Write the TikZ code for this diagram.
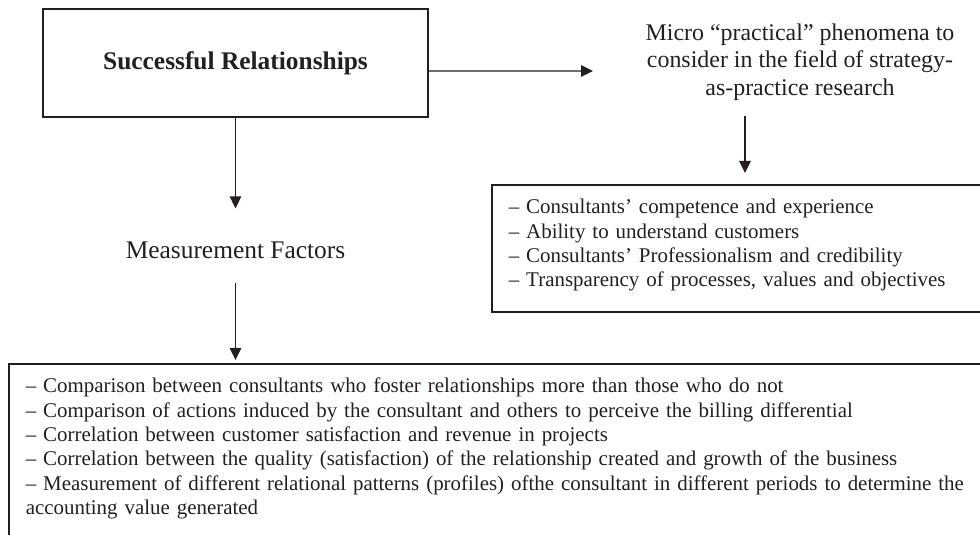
\documentclass[tikz,border=0pt]{standalone}
\usepackage{fontspec}
\setmainfont{Liberation Serif}
\usetikzlibrary{positioning,arrows.meta}
\definecolor{ink}{HTML}{231F20}

\begin{document}
\begin{tikzpicture}[x=1bp,y=-1bp,every node/.style={text=ink,font=\fontsize{21}{24.4}\selectfont},
        head/.style={inner sep=0pt,font=\fontsize{25.5}{27.5}\selectfont},
        box/.style={draw=ink,line width=1.6bp},
        list/.style={box,anchor=north west,align=left,inner xsep=17bp,inner ysep=0pt,text height=29bp},
        arr/.style={draw=ink,line width=1.3bp,-{Triangle[length=12bp,width=11.5bp]}}]
    %
    \useasboundingbox (0,0) rectangle (980,535);
    \clip (0,0) rectangle (980,535);
    %
    \draw (235.5,63) node[box,head,minimum width=385bp,minimum height=108bp] (Rel) {\textbf{Successful Relationships}};
    \draw (800,62) node[head,align=center,font=\fontsize{24}{27.5}\selectfont] (Micro) {Micro “practical” phenomena to\\consider in the field of strategy-\\as-practice research};
    \draw (235.5,250) node[head] (Meas) {Measurement Factors};
    %
    \draw (491,184) node[list,text width=520bp,text depth=98bp] (Prac) {– Consultants’ competence and experience\\
        – Ability to understand customers\\
        – Consultants’ Professionalism and credibility\\
        – Transparency of processes, values and objectives};
    \draw (8,363) node[list,text width=1000bp,text depth=200bp] (Fact) {– Comparison between consultants who foster relationships more than those who do not\\
        – Comparison of actions induced by the consultant and others to perceive the billing differential\\
        – Correlation between customer satisfaction and revenue in projects\\
        – Correlation between the quality (satisfaction) of the relationship created and growth of the business\\
        – Measurement of different relational patterns (profiles) ofthe consultant in different periods to determine the\\
        accounting value generated};
    %
    \coordinate (MicroIn) at (593,71);
    \coordinate (PracIn) at (745,184);
    \draw
    ([yshift=-8bp]Rel.east) edge[arr] (MicroIn)
    (Micro.south -| PracIn) edge[arr,shorten <=16bp,shorten >=11bp] (PracIn)
    (Rel.south) edge[arr,shorten >=33bp] (Meas.north)
    (Meas.south) edge[arr,shorten <=24bp,shorten >=3bp] (Meas.south |- Fact.north);
    %
\end{tikzpicture}
\end{document}
